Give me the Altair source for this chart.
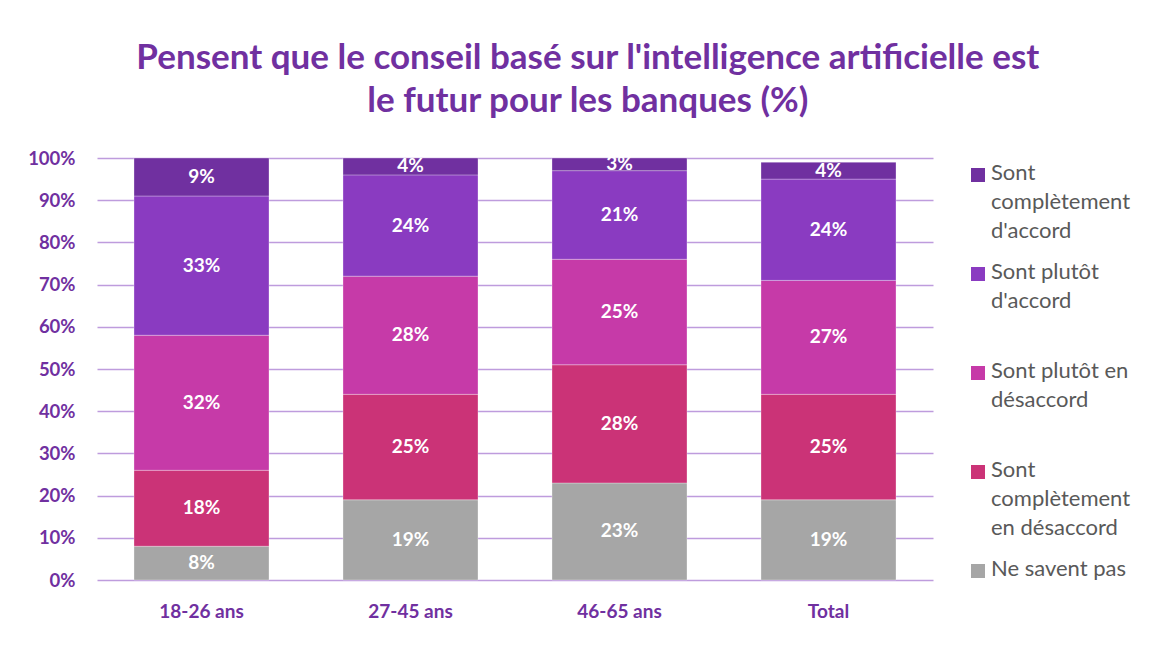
import altair as alt
import pandas as pd

ages = ["18-26 ans", "27-45 ans", "46-65 ans", "Total"]
series = [
    "Ne savent pas",
    "Sont complètement en désaccord",
    "Sont plutôt en désaccord",
    "Sont plutôt d'accord",
    "Sont complètement d'accord",
]
legend_labels = [
    "Ne savent pas",
    "Sont\ncomplètement\nen désaccord",
    "Sont plutôt en\ndésaccord",
    "Sont plutôt\nd'accord",
    "Sont\ncomplètement\nd'accord",
]
colors = ["#A6A6A6", "#CB3377", "#C63AA8", "#8A3BC1", "#7030A0"]
values = {
    "Ne savent pas": [8, 19, 23, 19],
    "Sont complètement en désaccord": [18, 25, 28, 25],
    "Sont plutôt en désaccord": [32, 28, 25, 27],
    "Sont plutôt d'accord": [33, 24, 21, 24],
    "Sont complètement d'accord": [9, 4, 3, 4],
}
y_ticks = list(range(0, 101, 10))

FONT = "Lato"
PURPLE = "#7030A0"

rows = []
for si, s in enumerate(series):
    for ai, a in enumerate(ages):
        rows.append({"age": a, "serie": s, "ord": si, "value": values[s][ai]})
df = pd.DataFrame(rows)

color_scale = alt.Scale(domain=series, range=colors)

base = alt.Chart(df).transform_stack(
    stack="value", groupby=["age"], sort=[alt.SortField("ord", order="ascending")], as_=["y0", "y1"]
).transform_calculate(mid="(datum.y0 + datum.y1) / 2")

x_enc = alt.X(
    "age:N",
    sort=ages,
    title=None,
    scale=alt.Scale(paddingInner=0.354, paddingOuter=0.177),
    axis=alt.Axis(
        labelAngle=0, labelFont=FONT, labelFontSize=19, labelFontWeight="bold",
        labelColor=PURPLE, labelPadding=22, ticks=False, domain=False,
    ),
)

bars = base.mark_bar(stroke="#ffffff", strokeWidth=0.6, strokeOpacity=0.5).encode(
    x=x_enc,
    y=alt.Y(
        "y0:Q",
        title=None,
        scale=alt.Scale(domain=[0, 100], nice=False),
        axis=alt.Axis(
            values=y_ticks, labelExpr="datum.value + '%'", labelFont=FONT,
            labelFontSize=18.5, labelFontWeight="bold", labelColor=PURPLE,
            labelPadding=22, ticks=False, domain=False,
            gridColor="#BE9CDD", gridWidth=1.5, gridOpacity=1,
        ),
    ),
    y2="y1:Q",
    color=alt.Color("serie:N", scale=color_scale, legend=None),
)

labels = base.mark_text(
    font=FONT, fontSize=19, fontWeight="bold", color="white", baseline="middle"
).encode(
    x=alt.X("age:N", sort=ages),
    y=alt.Y("mid:Q"),
    text=alt.Text("label:N"),
).transform_calculate(label="datum.value + '%'")

main = alt.layer(bars, labels).properties(width=836, height=422)

leg_rows = [
    {"label": legend_labels[i], "serie": series[i], "pos": 4 - i}
    for i in range(len(series))
]
leg_df = pd.DataFrame(leg_rows)
leg_y = alt.Y("pos:O", axis=None, sort="ascending", scale=alt.Scale(type="point", padding=0.172))

leg_sq = alt.Chart(leg_df).mark_square(size=196, opacity=1).encode(
    x=alt.value(7),
    y=leg_y,
    color=alt.Color("serie:N", scale=color_scale, legend=None),
)
leg_tx = alt.Chart(leg_df).mark_text(
    font=FONT, fontSize=22, color="#595959", align="left", baseline="top",
    dy=-12, lineBreak="\n", lineHeight=29,
).encode(
    x=alt.value(20),
    y=leg_y,
    text="label:N",
)
legend = alt.layer(leg_sq, leg_tx).properties(width=165, height=430)

chart = alt.hconcat(main, legend, spacing=38).properties(
    title=alt.TitleParams(
        text=["Pensent que le conseil basé sur l'intelligence artificielle est",
              "le futur pour les banques (%)"],
        font=FONT, fontSize=35, fontWeight="bold", color=PURPLE,
        anchor="middle", lineHeight=43, offset=30, dx=6,
    ),
    padding={"left": 27, "top": 41, "right": 5, "bottom": 5},
).configure_view(stroke=None).configure_concat(spacing=38)

chart.save("out.html", embed_options={"renderer": "svg", "actions": False})
